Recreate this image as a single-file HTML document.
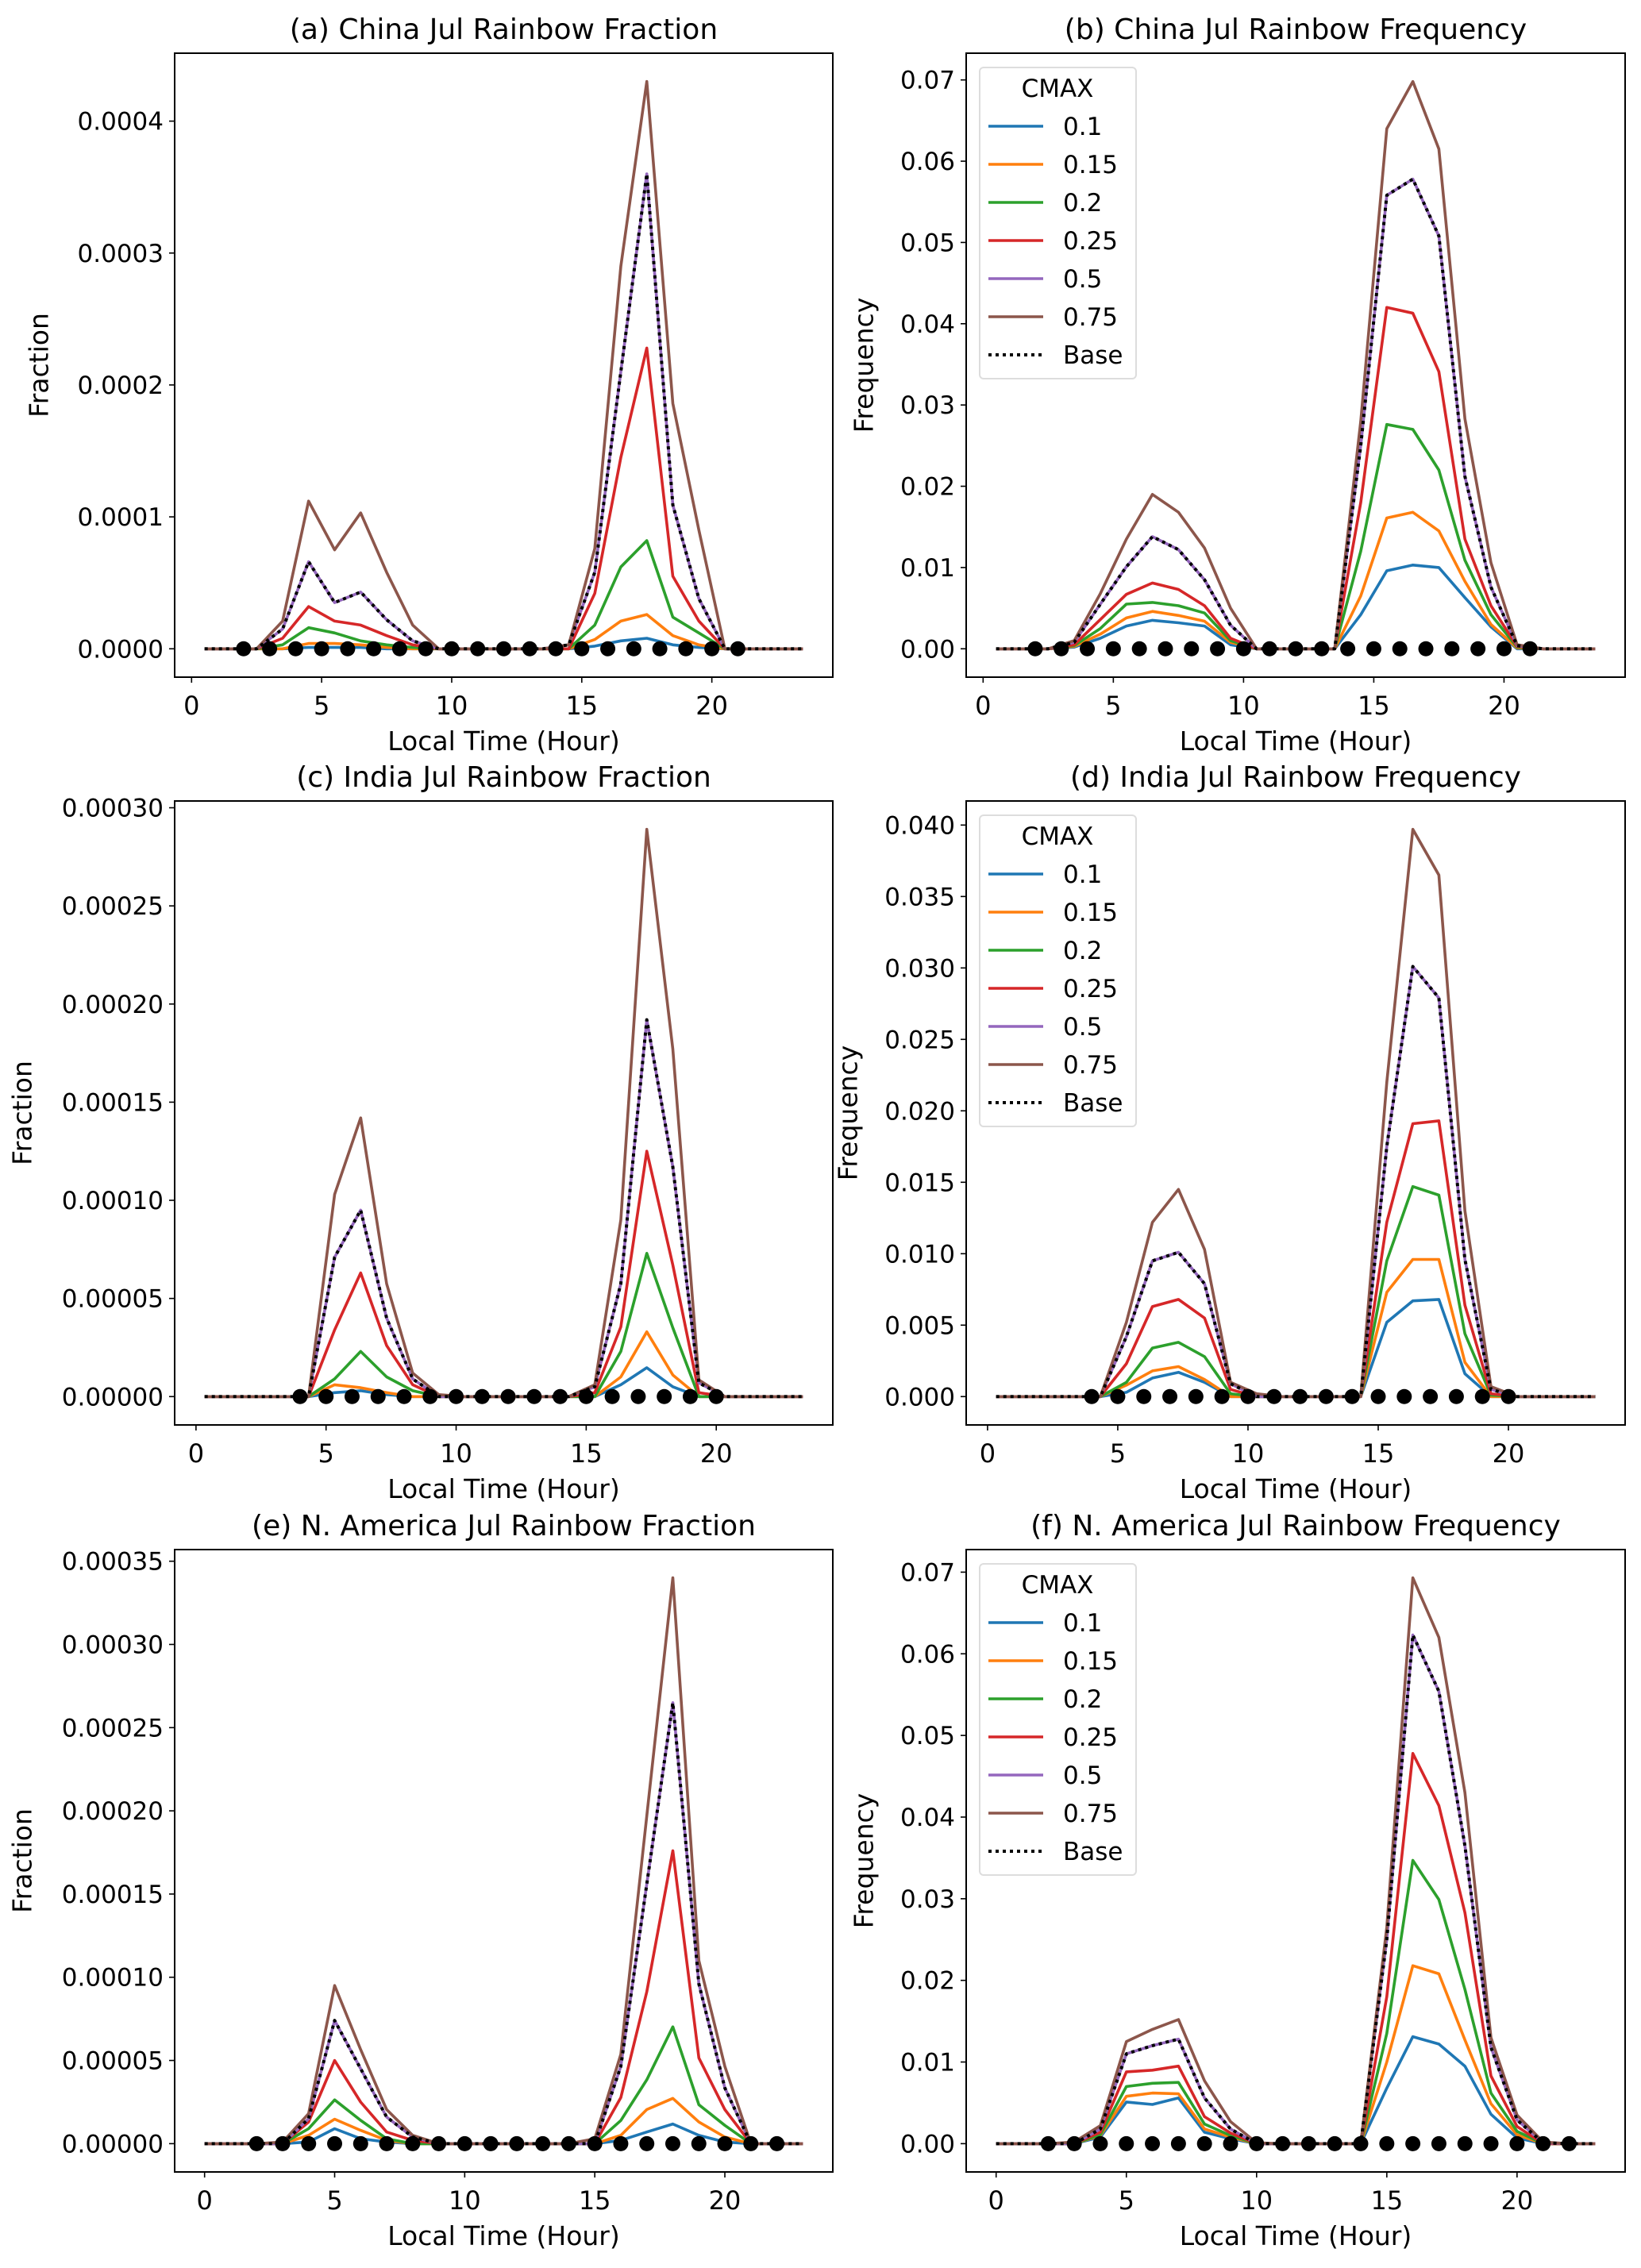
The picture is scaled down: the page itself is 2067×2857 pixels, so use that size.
<!DOCTYPE html>
<html><head><meta charset="utf-8"><style>
html,body{margin:0;padding:0;background:#fff}
svg text{font-family:"DejaVu Sans","Liberation Sans",sans-serif;fill:#000}
</style></head><body>
<svg id="fig" xmlns="http://www.w3.org/2000/svg" width="2067" height="2852" viewBox="0 0 2067 2852"></svg>
<script>
const hoursChina=[0.5,1.5,2.5,3.5,4.5,5.5,6.5,7.5,8.5,9.5,10.5,11.5,12.5,13.5,14.5,15.5,16.5,17.5,18.5,19.5,20.5,21.5,22.5,23.5];
const hoursIndia=[0.33,1.33,2.33,3.33,4.33,5.33,6.33,7.33,8.33,9.33,10.33,11.33,12.33,13.33,14.33,15.33,16.33,17.33,18.33,19.33,20.33,21.33,22.33,23.33];
const hoursNA=[0,1,2,3,4,5,6,7,8,9,10,11,12,13,14,15,16,17,18,19,20,21,22,23];
const markChina=[2,3,4,5,6,7,8,9,10,11,12,13,14,15,16,17,18,19,20,21];
const markIndia=[4,5,6,7,8,9,10,11,12,13,14,15,16,17,18,19,20];
const markNA=[2,3,4,5,6,7,8,9,10,11,12,13,14,15,16,17,18,19,20,21,22];
const legendLabels=["0.1","0.15","0.2","0.25","0.5","0.75","Base"];
const xTicks=[0,5,10,15,20];

const A_blue=[0,0,0,0,1e-6,1e-6,1e-6,0,0,0,0,0,0,0,0,2e-6,6e-6,8e-6,3e-6,1e-6,0,0,0,0];
const A_orange=[0,0,0,0,4e-6,4e-6,3e-6,1e-6,0,0,0,0,0,0,0,7e-6,21e-6,26e-6,10e-6,3e-6,0,0,0,0];
const A_green=[0,0,0,3e-6,16e-6,12e-6,6e-6,3e-6,1e-6,0,0,0,0,0,0,18e-6,62e-6,82e-6,24e-6,12e-6,0,0,0,0];
const A_red=[0,0,0,8e-6,32e-6,21e-6,18e-6,10e-6,3e-6,0,0,0,0,0,0,42e-6,145e-6,228e-6,55e-6,21e-6,0,0,0,0];
const A_purple=[0,0,0,15e-6,66e-6,35e-6,43e-6,22e-6,6e-6,0,0,0,0,0,3e-6,58e-6,210e-6,360e-6,109e-6,38e-6,0,0,0,0];
const A_brown=[0,0,0,21e-6,112e-6,75e-6,103e-6,58e-6,18e-6,0,0,0,0,0,3e-6,76e-6,290e-6,430e-6,186e-6,90e-6,0,0,0,0];
const A_base=[0,0,0,15e-6,66e-6,35e-6,43e-6,22e-6,6e-6,0,0,0,0,0,3e-6,58e-6,210e-6,360e-6,109e-6,38e-6,0,0,0,0];

const B_blue=[0,0,0,.0002,.0013,.0028,.0035,.0032,.0028,.0005,0,0,0,0,.0042,.0096,.0103,.0100,.0063,.0027,0,0,0,0];
const B_orange=[0,0,0,.0003,.0018,.0038,.0046,.0041,.0034,.0008,0,0,0,0,.0065,.0161,.0168,.0145,.0083,.003,.0001,0,0,0];
const B_green=[0,0,0,.0004,.0025,.0055,.0057,.0053,.0044,.001,0,0,0,0,.012,.0276,.027,.022,.0109,.0042,.0002,0,0,0];
const B_red=[0,0,0,.0005,.0036,.0067,.0081,.0073,.0053,.0013,0,0,0,0,.018,.042,.0413,.0341,.0135,.0053,.0003,0,0,0];
const B_purple=[0,0,0,.0008,.0055,.0101,.0138,.0122,.0085,.0029,0,0,0,0,.025,.0558,.0578,.0508,.0212,.0076,.0004,0,0,0];
const B_brown=[0,0,0,.001,.0068,.0135,.019,.0168,.0124,.005,0,0,0,0,.028,.064,.0698,.0615,.0283,.0106,.0005,0,0,0];
const B_base=[0,0,0,.0008,.0055,.0101,.0138,.0122,.0085,.0029,0,0,0,0,.025,.0558,.0578,.0508,.0212,.0076,.0004,0,0,0];

const C_blue=[0,0,0,0,0,2e-6,3e-6,1e-6,0,0,0,0,0,0,0,0,6e-6,14.7e-6,5e-6,0,0,0,0,0];
const C_orange=[0,0,0,0,0,6e-6,4.5e-6,2e-6,0,0,0,0,0,0,0,0,10e-6,33e-6,11e-6,0,0,0,0,0];
const C_green=[0,0,0,0,0,9e-6,23e-6,10e-6,3e-6,0,0,0,0,0,0,0,23e-6,73e-6,35e-6,0,0,0,0,0];
const C_red=[0,0,0,0,0,34e-6,63e-6,26e-6,6e-6,0,0,0,0,0,0,2e-6,35.5e-6,125e-6,67e-6,2e-6,0,0,0,0];
const C_purple=[0,0,0,0,0,71e-6,95e-6,40e-6,9e-6,0,0,0,0,0,0,5e-6,57.5e-6,192e-6,117e-6,7e-6,0,0,0,0];
const C_brown=[0,0,0,0,0,103e-6,142e-6,57.5e-6,12e-6,1e-6,0,0,0,0,0,6e-6,90e-6,289e-6,177e-6,8.5e-6,0,0,0,0];
const C_base=[0,0,0,0,0,71e-6,95e-6,40e-6,9e-6,0,0,0,0,0,0,5e-6,57.5e-6,192e-6,117e-6,7e-6,0,0,0,0];

const D_blue=[0,0,0,0,0,.0003,.0013,.0017,.001,0,0,0,0,0,0,.0052,.0067,.0068,.0016,0,0,0,0,0];
const D_orange=[0,0,0,0,0,.0008,.0018,.0021,.0012,0,0,0,0,0,0,.0073,.0096,.0096,.0024,0,0,0,0,0];
const D_green=[0,0,0,0,0,.001,.0034,.0038,.0028,.0002,0,0,0,0,0,.0095,.0147,.0141,.0044,.0001,0,0,0,0];
const D_red=[0,0,0,0,0,.0023,.0063,.0068,.0055,.0005,0,0,0,0,0,.0122,.0191,.0193,.0064,.0002,0,0,0,0];
const D_purple=[0,0,0,0,0,.0042,.0095,.0101,.0079,.0009,0,0,0,0,0,.0175,.0301,.0279,.0096,.0005,0,0,0,0];
const D_brown=[0,0,0,0,0,.0052,.0122,.0145,.0103,.001,.0002,0,0,0,0,.022,.0397,.0365,.013,.0007,0,0,0,0];
const D_base=[0,0,0,0,0,.0042,.0095,.0101,.0079,.0009,0,0,0,0,0,.0175,.0301,.0279,.0096,.0005,0,0,0,0];

const E_blue=[0,0,0,0,1e-6,9e-6,3e-6,1e-6,0,0,0,0,0,0,0,0,2e-6,7e-6,11.8e-6,5e-6,1e-6,0,0,0];
const E_orange=[0,0,0,0,5e-6,14.7e-6,8e-6,2e-6,0,0,0,0,0,0,0,0,5e-6,20.5e-6,27.2e-6,13e-6,4e-6,0,0,0];
const E_green=[0,0,0,0,9e-6,26.3e-6,14e-6,3e-6,0,0,0,0,0,0,0,0,13.9e-6,38.4e-6,70.2e-6,23.4e-6,11e-6,0,0,0];
const E_red=[0,0,0,0,13e-6,50e-6,25e-6,7e-6,2e-6,0,0,0,0,0,0,0,27.7e-6,91.3e-6,176e-6,51.5e-6,20.5e-6,0,0,0];
const E_purple=[0,0,0,0,15e-6,74e-6,45e-6,16e-6,4e-6,0,0,0,0,0,0,0,46.5e-6,156e-6,265e-6,96e-6,33.5e-6,0,0,0];
const E_brown=[0,0,0,1e-6,18e-6,95e-6,56.5e-6,20.5e-6,5e-6,0,0,0,0,0,0,3e-6,53.7e-6,197e-6,340e-6,110e-6,46.5e-6,0,0,0];
const E_base=[0,0,0,0,15e-6,74e-6,45e-6,16e-6,4e-6,0,0,0,0,0,0,0,46.5e-6,156e-6,265e-6,96e-6,33.5e-6,0,0,0];

const F_blue=[0,0,0,0,.0008,.0051,.0048,.0056,.0014,.0006,0,0,0,0,0,.0068,.0131,.0122,.0095,.0036,.0007,0,0,0];
const F_orange=[0,0,0,0,.001,.0058,.0062,.0061,.0018,.0008,0,0,0,0,0,.01,.0218,.0208,.0127,.0049,.0011,0,0,0];
const F_green=[0,0,0,0,.0011,.007,.0074,.0075,.0024,.001,0,0,0,0,0,.0135,.0347,.0299,.0189,.0062,.0015,0,0,0];
const F_red=[0,0,0,0,.0014,.0088,.009,.0095,.0033,.0013,0,0,0,0,0,.018,.0478,.0414,.0283,.0083,.0021,0,0,0];
const F_purple=[0,0,0,0,.0018,.011,.012,.0128,.0056,.0018,0,0,0,0,0,.025,.0623,.0554,.0365,.0118,.0029,.0001,0,0];
const F_brown=[0,0,0,.0002,.0022,.0125,.014,.0152,.0077,.0027,.0001,0,0,0,0,.0265,.0693,.062,.043,.013,.0035,.0002,0,0];
const F_base=[0,0,0,0,.0018,.011,.012,.0128,.0056,.0018,0,0,0,0,0,.025,.0623,.0554,.0365,.0118,.0029,.0001,0,0];

const yTicksA=[0,0.0001,0.0002,0.0003,0.0004];
const yLabelsA=["0.0000","0.0001","0.0002","0.0003","0.0004"];
const yTicksB=[0,0.01,0.02,0.03,0.04,0.05,0.06,0.07];
const yLabelsB=["0.00","0.01","0.02","0.03","0.04","0.05","0.06","0.07"];
const yTicksC=[0,0.00005,0.0001,0.00015,0.0002,0.00025,0.0003];
const yLabelsC=["0.00000","0.00005","0.00010","0.00015","0.00020","0.00025","0.00030"];
const yTicksD=[0,0.005,0.01,0.015,0.02,0.025,0.03,0.035,0.04];
const yLabelsD=["0.000","0.005","0.010","0.015","0.020","0.025","0.030","0.035","0.040"];
const yTicksE=[0,0.00005,0.0001,0.00015,0.0002,0.00025,0.0003,0.00035];
const yLabelsE=["0.00000","0.00005","0.00010","0.00015","0.00020","0.00025","0.00030","0.00035"];
const yTicksF=yTicksB, yLabelsF=yLabelsB;

const COLORS=["#1f77b4","#ff7f0e","#2ca02c","#d62728","#9467bd","#8c564b"];
const NS="http://www.w3.org/2000/svg";
const svg=document.getElementById('fig');
function mk(tag,attrs,parent){const e=document.createElementNS(NS,tag);for(const k in attrs)e.setAttribute(k,attrs[k]);(parent||svg).appendChild(e);return e;}

const panels=[
 {key:"a",title:"(a) China Jul Rainbow Fraction",L:220,T:67,R:1049,B:853,xs:hoursChina,ser:[A_blue,A_orange,A_green,A_red,A_purple,A_brown,A_base],mk:markChina,yt:yTicksA,yl:yLabelsA,ylab:"Fraction",ylx:51,leg:false},
 {key:"b",title:"(b) China Jul Rainbow Frequency",L:1217,T:67,R:2047,B:853,xs:hoursChina,ser:[B_blue,B_orange,B_green,B_red,B_purple,B_brown,B_base],mk:markChina,yt:yTicksB,yl:yLabelsB,ylab:"Frequency",ylx:1090,leg:true},
 {key:"c",title:"(c) India Jul Rainbow Fraction",L:220,T:1009,R:1049,B:1795,xs:hoursIndia,ser:[C_blue,C_orange,C_green,C_red,C_purple,C_brown,C_base],mk:markIndia,yt:yTicksC,yl:yLabelsC,ylab:"Fraction",ylx:30,leg:false},
 {key:"d",title:"(d) India Jul Rainbow Frequency",L:1217,T:1009,R:2047,B:1795,xs:hoursIndia,ser:[D_blue,D_orange,D_green,D_red,D_purple,D_brown,D_base],mk:markIndia,yt:yTicksD,yl:yLabelsD,ylab:"Frequency",ylx:1070,leg:true},
 {key:"e",title:"(e) N. America Jul Rainbow Fraction",L:220,T:1952,R:1049,B:2736,xs:hoursNA,ser:[E_blue,E_orange,E_green,E_red,E_purple,E_brown,E_base],mk:markNA,yt:yTicksE,yl:yLabelsE,ylab:"Fraction",ylx:30,leg:false},
 {key:"f",title:"(f) N. America Jul Rainbow Frequency",L:1217,T:1952,R:2047,B:2736,xs:hoursNA,ser:[F_blue,F_orange,F_green,F_red,F_purple,F_brown,F_base],mk:markNA,yt:yTicksF,yl:yLabelsF,ylab:"Frequency",ylx:1090,leg:true}
];

panels.forEach(p=>{
  const g=mk('g',{});
  
  
  const x0=Math.min(...p.xs), x1=Math.max(...p.xs), xr=x1-x0;
  const xmin=x0-0.05*xr, xmax=x1+0.05*xr;
  let ymx=0; p.ser.forEach(s=>s.forEach(v=>{if(v>ymx)ymx=v;}));
  const ymin=-0.05*ymx, ymax=1.05*ymx;
  const X=v=>p.L+(v-xmin)/(xmax-xmin)*(p.R-p.L);
  const Y=v=>p.B-(v-ymin)/(ymax-ymin)*(p.B-p.T);
  const t=mk('text',{x:(p.L+p.R)/2,y:p.T-18,'text-anchor':'middle','font-size':36},g);
  t.textContent=p.title;
  
  
  const sg=mk('g',{},g);
  
  
  p.ser.forEach((s,si)=>{
    const d=s.map((v,i)=>(i?'L':'M')+X(p.xs[i]).toFixed(1)+','+Y(v).toFixed(1)).join('');
    const isBase=si===6;
    const pa=mk('path',{d:d,fill:'none',stroke:isBase?'#000':COLORS[si],'stroke-width':isBase?4:3.6,'stroke-linejoin':'round','stroke-dasharray':isBase?'4,5':'none'},sg);
    
    
  });
  p.mk.forEach(h=>{
    const c=mk('circle',{cx:X(h),cy:Y(0),r:9.5,fill:'#000'},sg);
    
    
  });
  const fr=mk('rect',{x:p.L,y:p.T,width:p.R-p.L,height:p.B-p.T,fill:'none',stroke:'#000','stroke-width':2},g);
  
  
  xTicks.forEach(v=>{
    const xx=X(v);
    const tk=mk('line',{x1:xx,x2:xx,y1:p.B,y2:p.B+7,stroke:'#000','stroke-width':1.6},g);
    
    
    const tl=mk('text',{x:xx,y:p.B+47,'text-anchor':'middle','font-size':32},g);
    tl.textContent=String(v);
    
    
  });
  p.yt.forEach((v,i)=>{
    const yy=Y(v);
    const tk=mk('line',{x1:p.L-7,x2:p.L,y1:yy,y2:yy,stroke:'#000','stroke-width':1.6},g);
    
    
    const tl=mk('text',{x:p.L-14,y:yy+11,'text-anchor':'end','font-size':31},g);
    tl.textContent=p.yl[i];
    
    
  });
  const xl=mk('text',{x:(p.L+p.R)/2,y:p.B+92,'text-anchor':'middle','font-size':33},g);
  xl.textContent="Local Time (Hour)";
  
  
  const cy=(p.T+p.B)/2;
  const yl=mk('text',{x:p.ylx,y:cy,'text-anchor':'middle','font-size':33,transform:'rotate(-90 '+p.ylx+' '+cy+')','dominant-baseline':'middle'},g);
  yl.textContent=p.ylab;
  
  
  if(p.leg){
    const lg=mk('g',{},g);
    
    
    const lx=p.L+17, ly=p.T+18;
    mk('rect',{x:lx,y:ly,width:197,height:392,rx:5,fill:'#fff','fill-opacity':0.8,stroke:'#ddd','stroke-width':2},lg);
    const lt=mk('text',{x:lx+98,y:ly+37,'text-anchor':'middle','font-size':31},lg);
    lt.textContent="CMAX";
    
    
    legendLabels.forEach((lab,i)=>{
      const yy=ly+74+i*48;
      const e=mk('g',{},lg);
      
      
      mk('line',{x1:lx+11,x2:lx+80,y1:yy,y2:yy,stroke:i===6?'#000':COLORS[i],'stroke-width':i===6?4:3.6,'stroke-dasharray':i===6?'4,5':'none'},e);
      const tx=mk('text',{x:lx+105,y:yy+11,'font-size':31},e);
      tx.textContent=lab;
    });
  }
});
</script>
</body></html>
